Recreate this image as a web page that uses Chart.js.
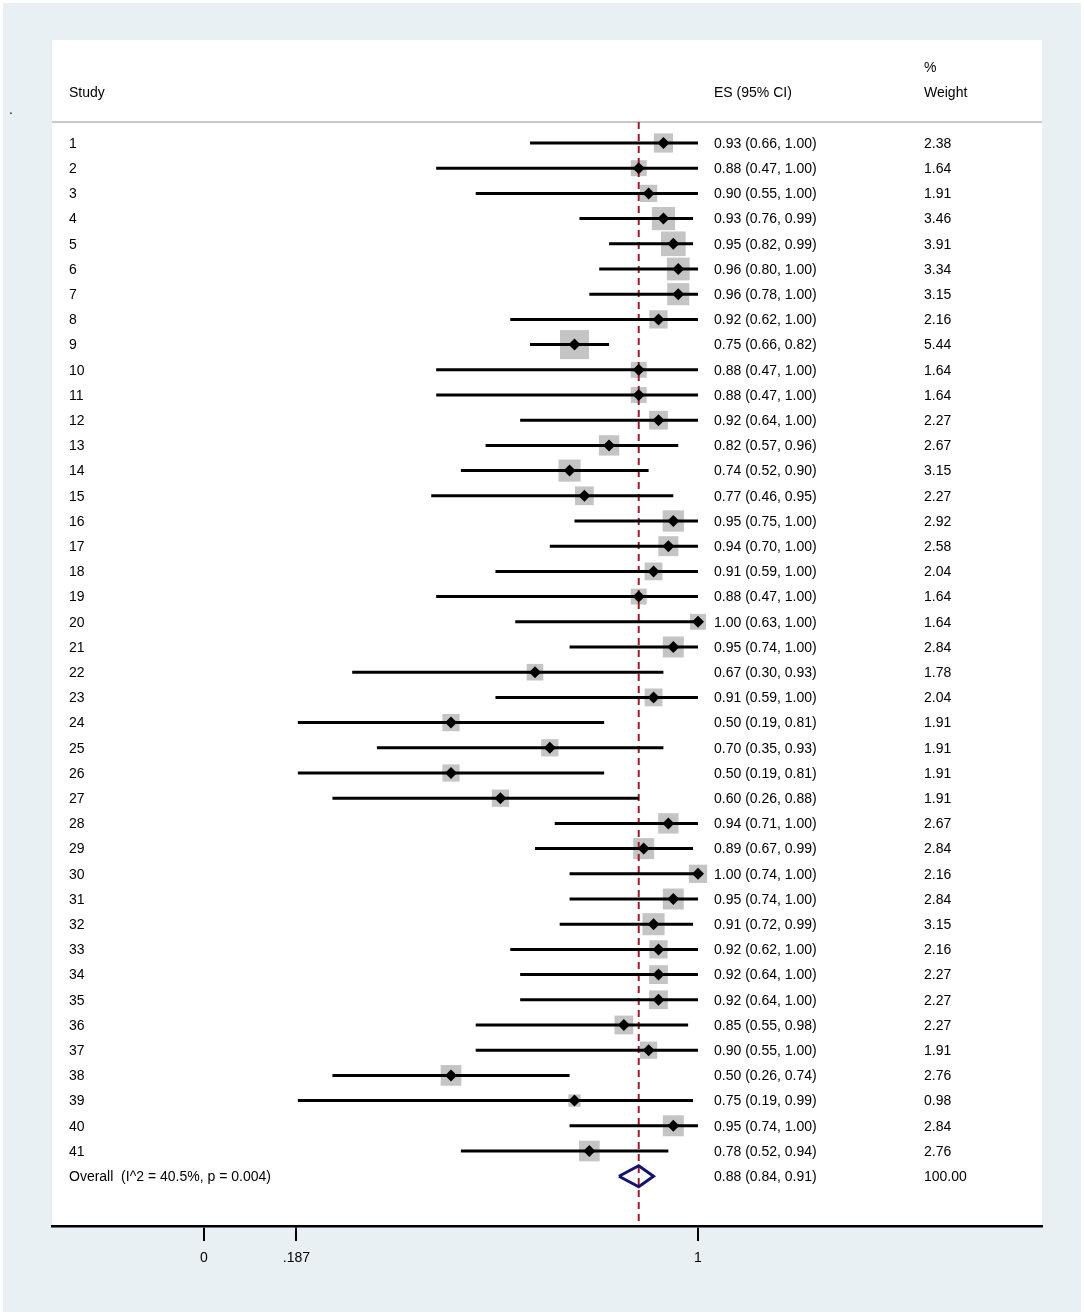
<!DOCTYPE html>
<html>
<head>
<meta charset="utf-8">
<script src="https://cdn.jsdelivr.net/npm/chart.js@4"></script>
<style>
  html, body { margin: 0; padding: 0; background: #fff; }
  #wrap { width: 1084px; height: 1315px; position: relative; }
</style>
</head>
<body>
<div id="wrap"><canvas id="forest"></canvas></div>
<script>
// study data
const studies = ['1','2','3','4','5','6','7','8','9','10','11','12','13','14','15','16','17','18','19','20',
  '21','22','23','24','25','26','27','28','29','30','31','32','33','34','35','36','37','38','39','40','41'];
const es = [0.93,0.88,0.90,0.93,0.95,0.96,0.96,0.92,0.75,0.88,0.88,0.92,0.82,0.74,0.77,0.95,0.94,0.91,0.88,1.00,
  0.95,0.67,0.91,0.50,0.70,0.50,0.60,0.94,0.89,1.00,0.95,0.91,0.92,0.92,0.92,0.85,0.90,0.50,0.75,0.95,0.78];
const ciLow = [0.66,0.47,0.55,0.76,0.82,0.80,0.78,0.62,0.66,0.47,0.47,0.64,0.57,0.52,0.46,0.75,0.70,0.59,0.47,0.63,
  0.74,0.30,0.59,0.19,0.35,0.19,0.26,0.71,0.67,0.74,0.74,0.72,0.62,0.64,0.64,0.55,0.55,0.26,0.19,0.74,0.52];
const ciHigh = [1.00,1.00,1.00,0.99,0.99,1.00,1.00,1.00,0.82,1.00,1.00,1.00,0.96,0.90,0.95,1.00,1.00,1.00,1.00,1.00,
  1.00,0.93,1.00,0.81,0.93,0.81,0.88,1.00,0.99,1.00,1.00,0.99,1.00,1.00,1.00,0.98,1.00,0.74,0.99,1.00,0.94];
const weights = [2.38,1.64,1.91,3.46,3.91,3.34,3.15,2.16,5.44,1.64,1.64,2.27,2.67,3.15,2.27,2.92,2.58,2.04,1.64,1.64,
  2.84,1.78,2.04,1.91,1.91,1.91,1.91,2.67,2.84,2.16,2.84,3.15,2.16,2.27,2.27,2.27,1.91,2.76,0.98,2.84,2.76];
const overall = { label: 'Overall  (I^2 = 40.5%, p = 0.004)', es: 0.88, lo: 0.84, hi: 0.91, weight: '100.00' };
const xTicks = [0, 0.187, 1];
const xTickLabels = ['0', '.187', '1'];

const overallRow = studies.length + 1;
const rowPx = 25.2;

// CI segments, broken by null points
const ciPoints = [];
studies.forEach((s, i) => {
  ciPoints.push({ x: ciLow[i], y: i + 1 }, { x: ciHigh[i], y: i + 1 }, { x: null, y: null });
});

const boxPoints = studies.map((s, i) => ({ x: es[i], y: i + 1 }));
const boxRadius = weights.map(w => 12.45 * Math.sqrt(w) / Math.SQRT2);

const dh = 10.5 / rowPx;
const diamond = [
  { x: overall.lo, y: overallRow }, { x: overall.es, y: overallRow - dh },
  { x: overall.hi, y: overallRow }, { x: overall.es, y: overallRow + dh },
  { x: overall.lo, y: overallRow }
];

const FONT = '14px "Liberation Sans", Arial, sans-serif';

const tablePlugin = {
  id: 'table',
  beforeDraw(chart) {
    const { ctx, chartArea: a, scales: { y } } = chart;
    ctx.save();
    ctx.fillStyle = '#ffffff';
    ctx.fillRect(0, 0, chart.width, chart.height);
    ctx.fillStyle = '#e9f0f3';
    ctx.fillRect(3, 3, chart.width - 6, chart.height - 6);
    ctx.fillStyle = '#ffffff';
    ctx.fillRect(a.left, a.top, a.right - a.left, a.bottom - a.top);
    // header rule
    const yr = y.getPixelForValue(0.17);
    ctx.strokeStyle = '#c8c8c8';
    ctx.lineWidth = 2;
    ctx.beginPath();
    ctx.moveTo(a.left, yr);
    ctx.lineTo(a.right, yr);
    ctx.stroke();
    ctx.restore();
  },
  afterDraw(chart) {
    const { ctx, chartArea: a, scales: { y } } = chart;
    const colStudy = a.left + 17, colEs = a.left + 662, colW = a.left + 872;
    const ty = v => y.getPixelForValue(v) + 1;
    ctx.save();
    ctx.font = FONT;
    ctx.fillStyle = '#000';
    ctx.textBaseline = 'middle';
    ctx.textAlign = 'left';
    ctx.fillText('.', 9, 110);
    ctx.fillText('Study', colStudy, ty(-1));
    ctx.fillText('ES (95% CI)', colEs, ty(-1));
    ctx.fillText('%', colW, ty(-2));
    ctx.fillText('Weight', colW, ty(-1));
    studies.forEach((s, i) => {
      const py = ty(i + 1);
      ctx.fillText(s, colStudy, py);
      ctx.fillText(`${es[i].toFixed(2)} (${ciLow[i].toFixed(2)}, ${ciHigh[i].toFixed(2)})`, colEs, py);
      ctx.fillText(weights[i].toFixed(2), colW, py);
    });
    const po = ty(overallRow);
    ctx.fillText(overall.label, colStudy, po);
    ctx.fillText(`${overall.es.toFixed(2)} (${overall.lo.toFixed(2)}, ${overall.hi.toFixed(2)})`, colEs, po);
    ctx.fillText(overall.weight, colW, po);
    ctx.restore();
  }
};

new Chart(document.getElementById('forest'), {
  type: 'scatter',
  data: {
    datasets: [
      {
        // point estimates
        data: boxPoints,
        pointStyle: 'rectRot',
        pointRadius: 6,
        backgroundColor: '#000',
        borderColor: '#000',
        borderWidth: 0,
        order: 0
      },
      {
        // pooled estimate
        data: diamond,
        showLine: true,
        pointRadius: 0,
        borderColor: '#12146e',
        borderWidth: 3,
        borderJoinStyle: 'miter',
        fill: false,
        order: 0
      },
      {
        data: ciPoints,
        showLine: true,
        spanGaps: false,
        pointRadius: 0,
        borderColor: '#000',
        borderWidth: 3,
        order: 1
      },
      {
        // reference line at overall ES
        data: [{ x: overall.es, y: 0.17 }, { x: overall.es, y: 44 }],
        showLine: true,
        pointRadius: 0,
        borderColor: '#9e1b2e',
        borderWidth: 2,
        borderDash: [7, 5],
        order: 2
      },
      {
        // study weights
        data: boxPoints,
        pointStyle: 'rect',
        pointRadius: boxRadius,
        backgroundColor: '#c4c4c4',
        borderColor: '#c4c4c4',
        borderWidth: 0,
        order: 3
      }
    ]
  },
  options: {
    responsive: true,
    maintainAspectRatio: false,
    animation: false,
    events: [],
    layout: { padding: { left: 52, right: 42, top: 40, bottom: 0 } },
    plugins: { legend: { display: false }, tooltip: { enabled: false } },
    scales: {
      x: {
        type: 'linear',
        min: -152 / 494,
        max: 838 / 494,
        afterBuildTicks: s => { s.ticks = xTicks.map(v => ({ value: v })); },
        afterFit: s => { s.height = 89; },
        border: { display: true, color: '#000', width: 2.5 },
        grid: { drawOnChartArea: false, drawTicks: true, tickLength: 15, color: '#000', lineWidth: 2 },
        ticks: {
          color: '#000',
          font: { family: '"Liberation Sans", Arial, sans-serif', size: 14 },
          padding: 9,
          maxRotation: 0,
          autoSkip: false,
          callback: (v, i) => xTickLabels[i]
        }
      },
      y: {
        type: 'linear',
        reverse: true,
        min: 1 - 103 / rowPx,
        max: 1 + 1083 / rowPx,
        display: false
      }
    }
  },
  plugins: [tablePlugin]
});
</script>
</body>
</html>
